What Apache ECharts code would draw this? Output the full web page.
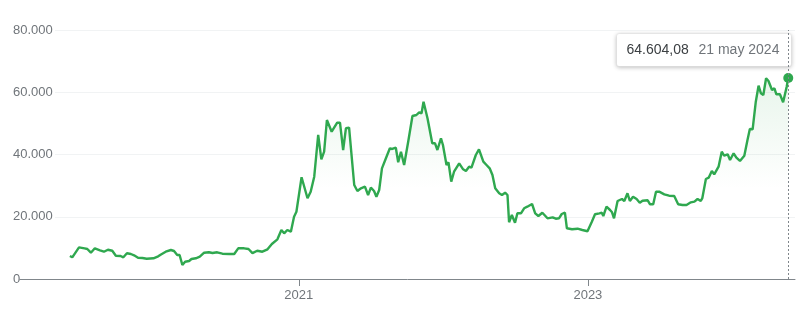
<!DOCTYPE html>
<html>
<head>
<meta charset="utf-8">
<script src="https://cdn.jsdelivr.net/npm/echarts@6/dist/echarts.min.js"></script>
<style>
html,body{margin:0;padding:0;background:#fff;}
#c{width:809px;height:314px;}
</style>
</head>
<body>
<div id="c"></div>
<script>
var dates = [
'2019-06-03','2019-06-09','2019-06-26','2019-07-10','2019-07-17','2019-07-26','2019-08-05','2019-08-18','2019-08-28','2019-09-07','2019-09-18','2019-09-27','2019-10-09','2019-10-16','2019-10-25','2019-11-04','2019-11-12','2019-11-22','2019-12-03','2019-12-14','2019-12-31',
'2020-01-12','2020-01-18','2020-01-31','2020-02-13','2020-02-21','2020-02-29','2020-03-06','2020-03-13','2020-03-20','2020-03-30','2020-04-05','2020-04-16','2020-04-26','2020-05-07','2020-05-19','2020-05-28','2020-06-09','2020-06-22','2020-07-09','2020-07-22','2020-08-01','2020-08-16','2020-08-27','2020-09-06','2020-09-18','2020-10-01','2020-10-14','2020-10-25','2020-11-08','2020-11-18','2020-11-25','2020-12-03','2020-12-12','2020-12-20','2020-12-26',
'2021-01-08','2021-01-23','2021-01-31','2021-02-09','2021-02-19','2021-02-27','2021-03-06','2021-03-13','2021-03-25','2021-04-08','2021-04-15','2021-04-23','2021-04-30','2021-05-08','2021-05-21','2021-05-29','2021-06-07','2021-06-17','2021-06-25','2021-07-02','2021-07-10','2021-07-16','2021-07-23','2021-07-30','2021-08-09','2021-08-19','2021-08-25','2021-09-03','2021-09-09','2021-09-16','2021-09-24','2021-10-05','2021-10-15','2021-10-25','2021-11-01','2021-11-07','2021-11-12','2021-11-22','2021-12-04','2021-12-11','2021-12-17','2021-12-26','2021-12-31',
'2022-01-09','2022-01-14','2022-01-21','2022-01-28','2022-02-10','2022-02-20','2022-02-27','2022-03-07','2022-03-13','2022-03-24','2022-04-01','2022-04-12','2022-04-20','2022-04-28','2022-05-05','2022-05-12','2022-05-22','2022-05-29','2022-06-06','2022-06-12','2022-06-16','2022-06-23','2022-07-01','2022-07-07','2022-07-16','2022-07-24','2022-08-01','2022-08-13','2022-08-21','2022-08-29','2022-09-08','2022-09-21','2022-10-04','2022-10-12','2022-10-20','2022-10-27','2022-11-04','2022-11-09','2022-11-22','2022-12-06','2022-12-18','2022-12-31',
'2023-01-04','2023-01-11','2023-01-19','2023-01-30','2023-02-05','2023-02-09','2023-02-17','2023-02-26','2023-03-03','2023-03-08','2023-03-17','2023-03-28','2023-04-03','2023-04-11','2023-04-17','2023-04-25','2023-05-04','2023-05-12','2023-05-19','2023-06-01','2023-06-07','2023-06-15','2023-06-22','2023-06-30','2023-07-13','2023-07-25','2023-08-07','2023-08-11','2023-08-17','2023-08-28','2023-09-07','2023-09-18','2023-09-27','2023-10-05','2023-10-13','2023-10-17','2023-10-26','2023-11-02','2023-11-10','2023-11-16','2023-11-27','2023-12-05','2023-12-11','2023-12-20','2023-12-26',
'2024-01-04','2024-01-11','2024-01-20','2024-01-31','2024-02-08','2024-02-14','2024-02-21','2024-02-29','2024-03-07','2024-03-13','2024-03-19','2024-03-26','2024-04-01','2024-04-10','2024-04-16','2024-04-21','2024-04-30','2024-05-08','2024-05-17','2024-05-21'
];
var prices = [
7390,6970,10180,9860,9640,8450,9860,9220,8770,9410,9090,7480,7390,6970,8260,8030,7610,6840,6750,6520,6650,
7290,7810,8770,9320,9000,7710,7710,4500,5560,5780,6430,6650,7160,8450,8580,8350,8580,8130,8030,8030,9860,9860,9640,8300,9090,8770,9540,11250,12750,15740,14680,15740,15200,20020,21620,
32680,25930,28050,32870,46270,38460,40900,51090,47330,50220,50220,41450,48420,48610,30200,28270,29140,29660,26990,29340,28270,26440,28590,35560,38780,41990,41770,42190,37490,40900,36630,44660,52370,52690,53560,53240,56970,51630,43600,43600,41450,45200,43050,
36630,37490,31260,34470,37170,35240,34700,36080,35760,39840,41670,37690,36630,35560,33410,29140,27530,26990,27730,26990,18220,20560,18090,21110,21110,22720,23230,24100,21110,20240,21300,19500,19820,19370,19500,20880,21300,16290,15970,16160,15740,15330,
15740,18410,20790,21110,21300,20240,23230,22170,21430,19500,25060,25700,25060,27530,25060,26440,25700,24510,25160,25290,24000,24000,28050,28050,27210,26760,26670,26990,24000,23780,23780,24640,24840,25700,25060,26000,32130,32550,34700,33640,36080,40900,39620,40070,38240,
40390,38980,37920,39620,44660,48200,48100,56970,62110,59660,59120,64490,63620,60730,61270,59340,59340,56770,61780,64604.08
];
var yTicks = [0, 20000, 40000, 60000, 80000];
var xTickDates = ['2021-01-01', '2023-01-01'];
var axisStart = '2019-01-28';
var axisEnd = '2024-06-07';
var monthsEs = ['ene','feb','mar','abr','may','jun','jul','ago','sept','oct','nov','dic'];

function ts(s){ return Date.UTC(+s.slice(0,4), +s.slice(5,7)-1, +s.slice(8,10)); }
function thousands(s){ return s.replace(/\B(?=(\d{3})+(?!\d))/g, '.'); }
function fmtInt(v){ return thousands(String(Math.round(v))); }
function fmtPrice(v){
  var p = v.toFixed(2).split('.');
  return thousands(p[0]) + ',' + p[1];
}
function fmtDate(s){
  var p = s.split('-');
  return parseInt(p[2],10) + ' ' + monthsEs[parseInt(p[1],10)-1] + ' ' + p[0];
}

var series = dates.map(function(d,i){ return [ts(d), prices[i]]; });
var last = series[series.length-1];
var lastDate = dates[dates.length-1];
var xTickValues = xTickDates.map(ts);
var FONT = '"Liberation Sans", Arial, sans-serif';
var green = '#2fa84f';

var chart = echarts.init(document.getElementById('c'), null, {renderer:'canvas'});
chart.setOption({
  animation: false,
  backgroundColor: '#fff',
  grid: [
    {left: 20, right: 14, top: 30, bottom: 35},
    {left: 55, right: 14, top: 30, bottom: 35}
  ],
  xAxis: [
    {
      type: 'value', gridIndex: 0, min: ts(axisStart), max: ts(axisEnd),
      axisLine: {show: true, lineStyle: {color: '#80868b', width: 1}},
      axisTick: {show: true, length: 7, lineStyle: {color: '#80868b'}, customValues: xTickValues},
      axisLabel: {
        show: true, margin: 10, color: '#70757a', fontSize: 13, fontFamily: FONT,
        customValues: xTickValues,
        formatter: function(v){ return String(new Date(v).getUTCFullYear()); }
      },
      splitLine: {show: false}
    },
    {type: 'value', gridIndex: 1, min: 0, max: 1, show: false}
  ],
  yAxis: [
    {type: 'value', gridIndex: 0, min: yTicks[0], max: yTicks[yTicks.length-1], interval: 20000, show: false, splitLine: {show: false}},
    {
      type: 'value', gridIndex: 1, min: yTicks[0], max: yTicks[yTicks.length-1], interval: 20000,
      axisLine: {show: false}, axisTick: {show: false},
      splitLine: {show: true, lineStyle: {color: '#f1f3f4', width: 1}},
      axisLabel: {align: 'left', margin: 42, color: '#70757a', fontSize: 13, fontFamily: FONT, formatter: fmtInt}
    }
  ],
  series: [
    {
      type: 'line', xAxisIndex: 0, yAxisIndex: 0, data: series,
      showSymbol: false, symbol: 'none',
      lineStyle: {color: green, width: 2.4},
      areaStyle: {
        color: new echarts.graphic.LinearGradient(0, 0, 0, 1, [
          {offset: 0, color: 'rgba(52,168,83,0.16)'},
          {offset: 0.55, color: 'rgba(52,168,83,0)'}
        ])
      },
      markLine: {
        silent: true, symbol: 'none', label: {show: false},
        lineStyle: {color: '#80868b', type: [2, 2], width: 1},
        data: [{xAxis: last[0]}]
      },
      z: 3
    },
    {
      type: 'scatter', xAxisIndex: 0, yAxisIndex: 0, data: [last],
      symbol: 'circle', symbolSize: 10, itemStyle: {color: green, opacity: 1}, z: 4
    }
  ],
  graphic: [
    {
      type: 'group', left: 616, top: 33, z: 100,
      children: [
        {type: 'rect', shape: {x: 0, y: 0, width: 175, height: 33, r: 3},
         style: {fill: '#fff', stroke: 'rgba(0,0,0,0.06)', lineWidth: 1, shadowBlur: 4, shadowOffsetY: 1, shadowColor: 'rgba(0,0,0,0.28)'}},
        {type: 'text', x: 10, y: 17, style: {text: fmtPrice(last[1]), fill: '#3c4043', font: '14px ' + FONT, verticalAlign: 'middle'}},
        {type: 'text', x: 82, y: 17, style: {text: fmtDate(lastDate), fill: '#70757a', font: '14px ' + FONT, verticalAlign: 'middle'}}
      ]
    }
  ]
});
</script>
</body>
</html>
